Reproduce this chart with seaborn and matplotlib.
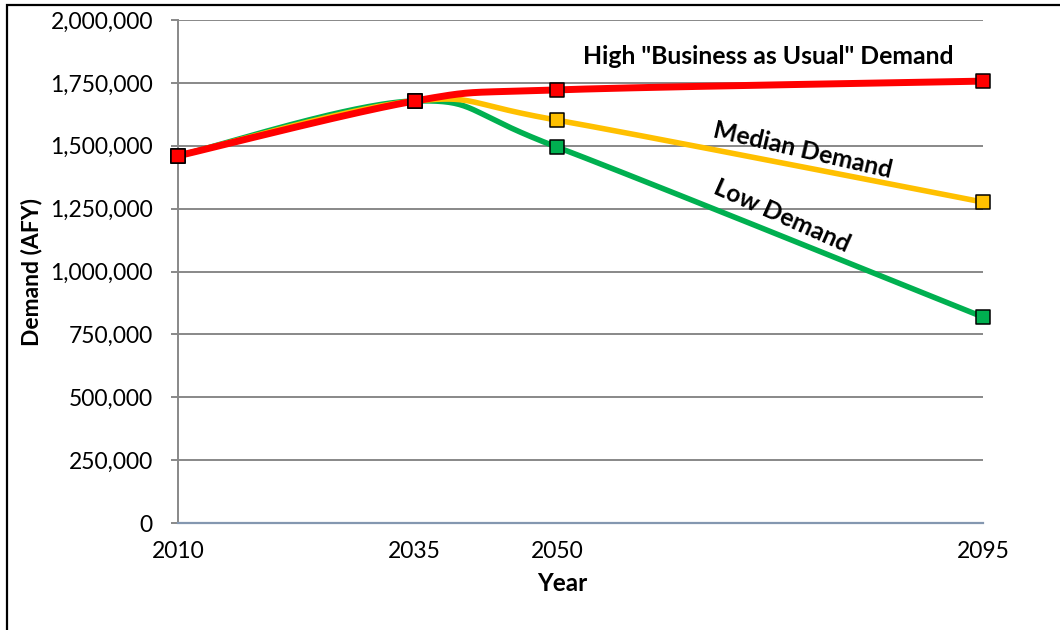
import numpy as np
import pandas as pd
import matplotlib
matplotlib.use("Agg")
import matplotlib.pyplot as plt
from matplotlib.patches import Rectangle
from matplotlib.ticker import FuncFormatter
import seaborn as sns

# Water demand projections (acre-feet per year)
years = [2010, 2035, 2050, 2095]
high_demand = [1460000, 1678000, 1722000, 1757000]
median_demand = [1460000, 1678000, 1602000, 1276000]
low_demand = [1460000, 1678000, 1495000, 819000]

x_ticks = [2010, 2035, 2050, 2095]
y_ticks = [0, 250000, 500000, 750000, 1000000, 1250000, 1500000, 1750000, 2000000]

series = [
    ("Low Demand", low_demand, "#00B050", 4.0),
    ("Median Demand", median_demand, "#FFC000", 4.0),
    ('High "Business as Usual" Demand', high_demand, "#FF0000", 5.0),
]

sns.set_theme(style="white")
plt.rcParams["font.family"] = ["Lato", "DejaVu Sans"]

W, H = 1060, 630
fig = plt.figure(figsize=(W / 100, H / 100), dpi=100)
ax = fig.add_axes([178 / W, 1 - 523 / H, (983 - 178) / W, (523 - 20) / H])
ax.set_xlim(2010, 2095)
ax.set_ylim(0, 2000000)


def smooth_curve(xs, ys, n=60):
    """Bezier smoothing through the points, computed in display space."""
    pts = ax.transData.transform(np.column_stack([xs, ys]))
    k = len(pts)
    out = []
    t = np.linspace(0, 1, n)[:, None]
    for i in range(k - 1):
        p0 = pts[max(i - 1, 0)]
        p1 = pts[i]
        p2 = pts[i + 1]
        p3 = pts[min(i + 2, k - 1)]
        c1 = p1 + (p2 - p0) / 6.0
        c2 = p2 - (p3 - p1) / 6.0
        seg = ((1 - t) ** 3) * p1 + 3 * ((1 - t) ** 2) * t * c1 + 3 * (1 - t) * t ** 2 * c2 + t ** 3 * p2
        out.append(seg if i == 0 else seg[1:])
    curve = ax.transData.inverted().transform(np.vstack(out))
    return curve[:, 0], curve[:, 1]


for name, vals, color, lw in series:
    cx, cy = smooth_curve(years, vals)
    df_curve = pd.DataFrame({"Year": cx, "Demand": cy})
    sns.lineplot(data=df_curve, x="Year", y="Demand", sort=False, estimator=None,
                 color=color, linewidth=lw, ax=ax, zorder=3, clip_on=False)

for name, vals, color, lw in series:
    df_pts = pd.DataFrame({"Year": years, "Demand": vals})
    sns.scatterplot(data=df_pts, x="Year", y="Demand", marker="s", s=110,
                    color=color, edgecolor="black", linewidth=1.1, ax=ax,
                    zorder=5, clip_on=False)

# Axes styling
ax.set_xticks(x_ticks)
ax.set_yticks(y_ticks)
ax.yaxis.set_major_formatter(FuncFormatter(lambda v, p: f"{int(v):,}"))
ax.grid(axis="y", color="#888888", linewidth=1.4)
ax.grid(axis="x", visible=False)
for side in ["top", "right"]:
    ax.spines[side].set_visible(False)
ax.spines["left"].set_color("#888888")
ax.spines["left"].set_linewidth(1.4)
ax.spines["bottom"].set_color("#8497B0")
ax.spines["bottom"].set_linewidth(1.6)
ax.set_axisbelow(True)
ax.tick_params(axis="y", which="major", direction="out", length=5, width=1.4,
               color="#888888", left=True, pad=13, labelsize=16.5, labelcolor="black")
ax.tick_params(axis="x", which="major", length=0, pad=13, labelsize=16.5, labelcolor="black")

ax.set_xlabel("Year", fontsize=17.5, fontweight="bold", color="black")
ax.xaxis.set_label_coords(0.477, -0.097)
ax.set_ylabel("Demand (AFY)", fontsize=16.5, fontweight="bold", labelpad=6, color="black")

# Series labels
ax.text(2072.3, 1855000, 'High "Business as Usual" Demand', fontsize=17.8,
        fontweight="bold", ha="center", va="center", color="black")
ax.text(2076.0, 1483000, "Median Demand", fontsize=17.8, fontweight="bold",
        ha="center", va="center", rotation=-13, rotation_mode="anchor", color="black")
ax.text(2073.8, 1222000, "Low Demand", fontsize=17.8, fontweight="bold",
        ha="center", va="center", rotation=-24, rotation_mode="anchor", color="black")

# Outer chart frame
fig.patches.append(Rectangle((7 / W, -0.2), 1.5, 1.2 - 5 / H, transform=fig.transFigure,
                             fill=False, edgecolor="black", linewidth=1.6))

fig.savefig("out.png", dpi=100)
